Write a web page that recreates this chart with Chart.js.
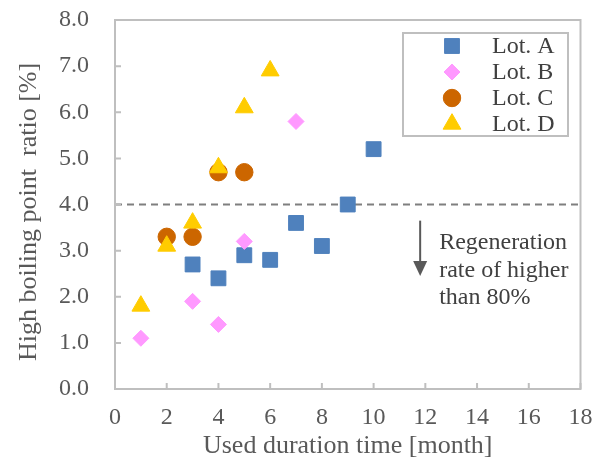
<!DOCTYPE html>
<html>
<head>
<meta charset="utf-8">
<script src="https://cdn.jsdelivr.net/npm/chart.js@4.4.1/dist/chart.umd.min.js"></script>
<style>
  html, body { margin: 0; padding: 0; background: #ffffff; }
  #wrap { width: 592px; height: 459px; position: relative; }
</style>
</head>
<body>
<div id="wrap"><canvas id="c" width="592" height="459"></canvas></div>
<script>
// ---- data ----
const lotA_x = [3, 4, 5, 6, 7, 8, 9, 10];
const lotA_y = [2.7, 2.4, 2.9, 2.8, 3.6, 3.1, 4.0, 5.2];
const lotB_x = [1, 3, 4, 5, 7];
const lotB_y = [1.1, 1.9, 1.4, 3.2, 5.8];
const lotC_x = [2, 3, 4, 5];
const lotC_y = [3.3, 3.3, 4.7, 4.7];
const lotD_x = [1, 2, 3, 4, 5, 6];
const lotD_y = [1.8, 3.1, 3.6, 4.8, 6.1, 6.9];
const seriesNames = ['Lot. A', 'Lot. B', 'Lot. C', 'Lot. D'];
const xTicks = [0, 2, 4, 6, 8, 10, 12, 14, 16, 18];
const yTicks = [0, 1, 2, 3, 4, 5, 6, 7, 8];
const thresholdValue = 4.0;
const noteLines = ['Regeneration', 'rate of higher', 'than 80%'];
const xTitle = 'Used duration time [month]';
const yTitle = 'High boiling point  ratio [%]';

const pts = (xs, ys) => xs.map((x, i) => ({ x: x, y: ys[i] }));
const FONT = '"Liberation Serif", "Times New Roman", serif';
const AXIS_GRAY = '#BFBFBF';
const TEXT_GRAY = '#595959';

const frame = {
  id: 'frame',
  beforeDatasetsDraw(chart) {
    const { ctx, chartArea: a, scales: { x, y } } = chart;
    ctx.save();
    const ty = y.getPixelForValue(thresholdValue);
    ctx.strokeStyle = '#7F7F7F';
    ctx.lineWidth = 2;
    ctx.setLineDash([7, 5]);
    ctx.beginPath();
    ctx.moveTo(a.left, ty);
    ctx.lineTo(a.right, ty);
    ctx.stroke();
    ctx.setLineDash([]);
    ctx.strokeStyle = AXIS_GRAY;
    ctx.lineWidth = 2;
    ctx.strokeRect(a.left, a.top, a.right - a.left, a.bottom - a.top);
    ctx.beginPath();
    xTicks.forEach(v => {
      const px = x.getPixelForValue(v);
      ctx.moveTo(px, a.bottom);
      ctx.lineTo(px, a.bottom - 6);
    });
    yTicks.forEach(v => {
      const py = y.getPixelForValue(v);
      ctx.moveTo(a.left, py);
      ctx.lineTo(a.left + 6, py);
    });
    ctx.stroke();
    // y-axis title
    ctx.save();
    ctx.translate(29, 212);
    ctx.rotate(-Math.PI / 2);
    ctx.fillStyle = TEXT_GRAY;
    ctx.font = '26px ' + FONT;
    ctx.textAlign = 'center';
    ctx.textBaseline = 'middle';
    ctx.fillText(yTitle, 0, 0);
    ctx.restore();
    ctx.restore();
  },
  afterDraw(chart) {
    const { ctx, scales: { x, y } } = chart;
    ctx.save();
    // arrow
    const ax = x.getPixelForValue(11.8);
    const ay0 = y.getPixelForValue(3.65);
    const ay1 = y.getPixelForValue(2.45);
    ctx.strokeStyle = '#595959';
    ctx.fillStyle = '#595959';
    ctx.lineWidth = 2;
    ctx.beginPath();
    ctx.moveTo(ax, ay0);
    ctx.lineTo(ax, ay1 - 12);
    ctx.stroke();
    ctx.beginPath();
    ctx.moveTo(ax - 7, ay1 - 15);
    ctx.lineTo(ax + 7, ay1 - 15);
    ctx.lineTo(ax, ay1);
    ctx.closePath();
    ctx.fill();
    // note text
    ctx.fillStyle = '#404040';
    ctx.font = '24px ' + FONT;
    ctx.textAlign = 'left';
    ctx.textBaseline = 'middle';
    noteLines.forEach((t, i) => ctx.fillText(t, ax + 19, 243 + i * 27.5));
    // legend
    const lx = 403, ly = 33, lw = 165, lh = 103;
    ctx.fillStyle = '#ffffff';
    ctx.fillRect(lx, ly, lw, lh);
    ctx.strokeStyle = AXIS_GRAY;
    ctx.lineWidth = 2;
    ctx.strokeRect(lx, ly, lw, lh);
    chart.data.datasets.forEach((ds, i) => {
      const cy = ly + 13 + i * 26;
      ctx.fillStyle = ds.backgroundColor;
      ctx.strokeStyle = ds.backgroundColor;
      ctx.lineWidth = 1;
      Chart.helpers.drawPoint(ctx, { pointStyle: ds.pointStyle, radius: ds.pointRadius, borderWidth: 1 }, lx + 49, cy);
      ctx.fillStyle = '#404040';
      ctx.font = '24px ' + FONT;
      ctx.textAlign = 'left';
      ctx.textBaseline = 'middle';
      ctx.fillText(ds.label, lx + 89, cy + 1);
    });
    ctx.restore();
  }
};

const mk = (label, data, color, style, r, order) => ({
  label, data, backgroundColor: color, borderColor: color, borderWidth: 1,
  pointStyle: style, pointRadius: r, pointHoverRadius: r, order
});

new Chart(document.getElementById('c'), {
  type: 'scatter',
  data: {
    datasets: [
      mk(seriesNames[0], pts(lotA_x, lotA_y), '#4F81BD', 'rect', 10.5, 3),
      mk(seriesNames[1], pts(lotB_x, lotB_y), '#FF99FF', 'rectRot', 8, 2),
      mk(seriesNames[2], pts(lotC_x, lotC_y), '#CC6600', 'circle', 8.7, 1),
      mk(seriesNames[3], pts(lotD_x, lotD_y), '#FFCC00', 'triangle', 10.3, 0)
    ]
  },
  options: {
    responsive: false,
    animation: false,
    events: [],
    layout: { padding: { top: 20, right: 11, left: 0, bottom: 0 } },
    plugins: { legend: { display: false }, tooltip: { enabled: false } },
    scales: {
      x: {
        type: 'linear', min: 0, max: 18,
        afterBuildTicks: s => { s.ticks = xTicks.map(v => ({ value: v })); },
        afterFit: s => { s.height = 70; s.paddingLeft = 0; s.paddingRight = 0; },
        grid: { display: false, drawTicks: false },
        border: { display: false },
        ticks: { color: TEXT_GRAY, padding: 14, maxRotation: 0, font: { family: FONT, size: 24 } },
        title: { display: true, text: xTitle, color: TEXT_GRAY, padding: { top: 0, bottom: 0 }, font: { family: FONT, size: 26, lineHeight: 1.0 } }
      },
      y: {
        type: 'linear', min: 0, max: 8,
        afterBuildTicks: s => { s.ticks = yTicks.map(v => ({ value: v })); },
        afterFit: s => { s.width = 115; s.paddingTop = 0; s.paddingBottom = 0; },
        grid: { display: false, drawTicks: false },
        border: { display: false },
        ticks: { color: TEXT_GRAY, padding: 26, callback: v => Number(v).toFixed(1), font: { family: FONT, size: 24 } },
        title: { display: false }
      }
    }
  },
  plugins: [frame]
});
</script>
</body>
</html>
